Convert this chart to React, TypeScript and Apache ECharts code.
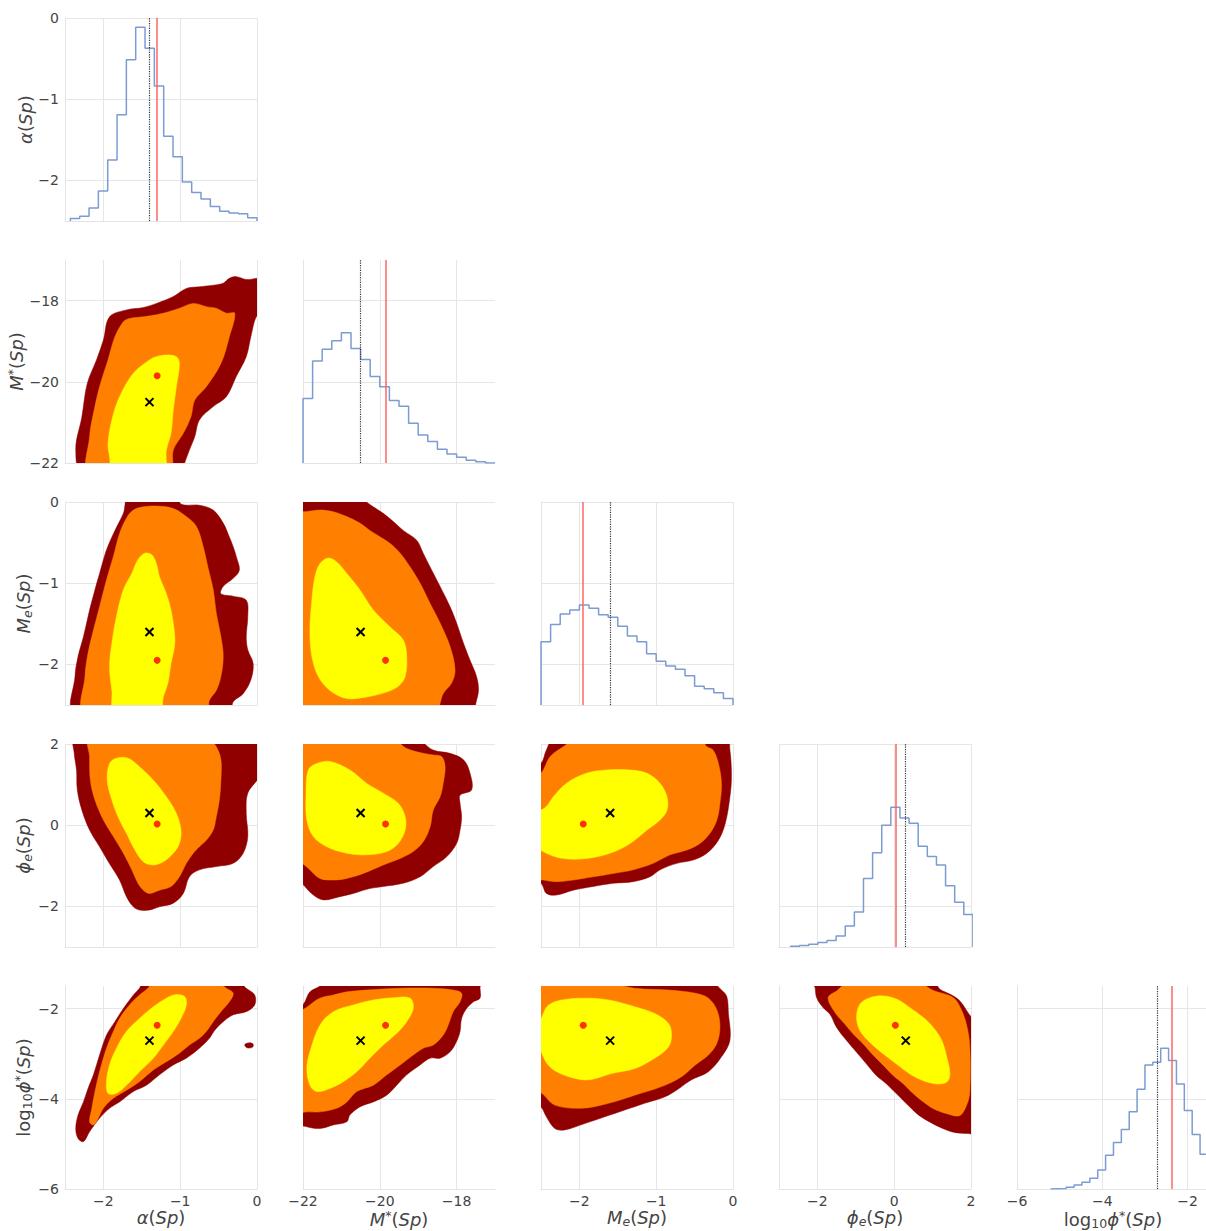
import React, { useEffect, useRef } from "react";
import * as echarts from "echarts";

const FONT = "DejaVu Sans";

// ---- parameters: alpha, M*, Me, phi_e, log10 phi*
const axisMin = [-2.5, -22, -2.5, -3, -6];
const axisMax = [0, -17, 0, 2, -1.5];
const tickValues = [
  [-2, -1, 0],
  [-22, -20, -18],
  [-2, -1, 0],
  [-2, 0, 2],
  [-6, -4, -2],
];
const varTitles = [
  "{i|α}{n|(}{i|Sp}{n|)}",
  "{i|M}{sup|*}{n|(}{i|Sp}{n|)}",
  "{i|M}{subi|e}{n|(}{i|Sp}{n|)}",
  "{i|ϕ}{subi|e}{n|(}{i|Sp}{n|)}",
  "{n|log}{sub|10}{i|ϕ}{sup|*}{n|(}{i|Sp}{n|)}",
];

const trueValues = [-1.3, -19.85, -1.95, 0.03, -2.37];
const estValues = [-1.4, -20.5, -1.6, 0.3, -2.71];

// ---- marginal histograms (heights in the row-axis units as drawn)
const histStart = [-2.43, -22, -2.5, -2.7, -5.215];
const histWidth = [0.1215, 0.25, 0.125, 0.2375, 0.1845];
const histAlpha = [-2.47, -2.44, -2.34, -2.13, -1.75, -1.19, -0.515, -0.115, -0.372, -0.838, -1.456, -1.71, -2.02, -2.15, -2.23, -2.32, -2.38, -2.4, -2.41, -2.46];
const histMstar = [-20.41, -19.49, -19.2, -18.99, -18.79, -19.18, -19.45, -19.87, -20.12, -20.46, -20.6, -21.02, -21.31, -21.47, -21.66, -21.78, -21.86, -21.93, -21.97, -22.0];
const histMe = [-1.72, -1.51, -1.38, -1.33, -1.27, -1.31, -1.39, -1.42, -1.53, -1.65, -1.72, -1.87, -1.96, -2.02, -2.06, -2.14, -2.27, -2.3, -2.35, -2.42];
const histPhiE = [-2.98, -2.96, -2.93, -2.89, -2.84, -2.73, -2.48, -2.14, -1.31, -0.68, 0.0, 0.44, 0.18, 0.05, -0.52, -0.77, -0.98, -1.49, -1.9, -2.2];
const histLogPhi = [-5.995, -5.99, -5.96, -5.91, -5.85, -5.76, -5.58, -5.25, -4.97, -4.68, -4.29, -3.79, -3.25, -3.19, -2.88, -3.15, -3.67, -4.26, -4.79, -5.23, -5.55];
const histHeights = [histAlpha, histMstar, histMe, histPhiE, histLogPhi];

// ---- credible-region contours [x, y] (outer = dark red, mid = orange, inner = yellow)
// M* vs alpha
const alMsOuter = [[-2.26,-22.3],[-2.36,-21.68],[-2.28,-20.86],[-2.21,-20.04],[-2.09,-19.46],[-2.0,-18.97],[-1.92,-18.4],[-1.7,-18.23],[-1.48,-18.17],[-1.31,-18.07],[-1.09,-17.9],[-0.92,-17.7],[-0.75,-17.66],[-0.57,-17.62],[-0.44,-17.57],[-0.36,-17.45],[-0.27,-17.41],[-0.14,-17.48],[0.05,-17.49],[0.05,-18.4],[-0.01,-18.4],[-0.08,-18.89],[-0.14,-19.38],[-0.27,-19.87],[-0.4,-20.37],[-0.57,-20.61],[-0.75,-20.94],[-0.81,-21.35],[-0.88,-21.68],[-0.96,-22.09],[-1.0,-22.3]];
const alMsMid = [[-2.18,-22.3],[-2.18,-21.35],[-2.12,-20.69],[-2.05,-20.12],[-1.94,-19.46],[-1.85,-18.89],[-1.74,-18.52],[-1.66,-18.44],[-1.48,-18.4],[-1.31,-18.35],[-1.14,-18.27],[-1.01,-18.19],[-0.83,-18.07],[-0.66,-18.15],[-0.53,-18.19],[-0.4,-18.31],[-0.29,-18.31],[-0.36,-18.89],[-0.47,-19.55],[-0.66,-20.12],[-0.81,-20.45],[-0.86,-20.86],[-0.96,-21.27],[-1.09,-21.68],[-1.14,-22.3]];
const alMsInner = [[-1.4,-19.46],[-1.61,-19.79],[-1.79,-20.37],[-1.89,-20.94],[-1.94,-21.52],[-1.92,-21.84],[-1.87,-22.3],[-1.22,-22.3],[-1.18,-21.68],[-1.12,-21.27],[-1.09,-20.69],[-1.05,-20.12],[-1.01,-19.55],[-1.05,-19.38],[-1.18,-19.34],[-1.31,-19.38]];
// Me vs alpha
const alMeOuter = [[-1.66,0.1],[-1.05,0.1],[-0.99,-0.025],[-0.75,-0.04],[-0.57,-0.1],[-0.44,-0.26],[-0.36,-0.43],[-0.31,-0.55],[-0.27,-0.67],[-0.23,-0.84],[-0.31,-0.94],[-0.44,-1.04],[-0.47,-1.13],[-0.31,-1.16],[-0.14,-1.21],[-0.12,-1.41],[-0.14,-1.66],[-0.12,-1.82],[-0.05,-1.99],[-0.08,-2.19],[-0.18,-2.36],[-0.31,-2.46],[-0.36,-2.6],[-2.37,-2.6],[-2.37,-2.15],[-2.33,-1.9],[-2.26,-1.66],[-2.18,-1.33],[-2.11,-1.08],[-2.05,-0.88],[-1.96,-0.59],[-1.85,-0.35],[-1.74,-0.14]];
const alMeMid = [[-1.61,-0.1],[-1.48,-0.06],[-1.31,-0.05],[-1.09,-0.08],[-0.92,-0.18],[-0.79,-0.3],[-0.7,-0.55],[-0.64,-0.8],[-0.57,-1.08],[-0.53,-1.37],[-0.47,-1.66],[-0.44,-1.9],[-0.47,-2.15],[-0.53,-2.32],[-0.62,-2.44],[-0.66,-2.6],[-2.24,-2.6],[-2.24,-2.15],[-2.2,-1.86],[-2.13,-1.58],[-2.05,-1.29],[-1.96,-0.96],[-1.87,-0.67],[-1.79,-0.39],[-1.7,-0.2]];
const alMeInner = [[-1.46,-0.63],[-1.37,-0.65],[-1.31,-0.76],[-1.27,-0.92],[-1.2,-1.08],[-1.14,-1.25],[-1.09,-1.49],[-1.07,-1.74],[-1.12,-1.99],[-1.16,-2.23],[-1.22,-2.4],[-1.27,-2.6],[-1.85,-2.6],[-1.89,-2.32],[-1.92,-2.03],[-1.89,-1.74],[-1.83,-1.41],[-1.74,-1.08],[-1.63,-0.88],[-1.55,-0.71]];
// Me vs M*
const msMeOuter = [[-22.2,0.1],[-20.6,0.1],[-20.4,0.02],[-20.17,-0.06],[-19.91,-0.14],[-19.65,-0.24],[-19.39,-0.35],[-19.04,-0.47],[-18.87,-0.63],[-18.69,-0.8],[-18.43,-1.04],[-18.17,-1.29],[-18.0,-1.49],[-17.82,-1.74],[-17.65,-1.95],[-17.48,-2.15],[-17.43,-2.32],[-17.5,-2.48],[-17.55,-2.6],[-22.2,-2.6]];
const msMeMid = [[-22.2,-0.12],[-21.95,-0.12],[-21.56,-0.1],[-21.21,-0.12],[-20.86,-0.18],[-20.52,-0.26],[-20.26,-0.35],[-19.99,-0.43],[-19.73,-0.51],[-19.47,-0.63],[-19.21,-0.8],[-18.95,-1.0],[-18.69,-1.25],[-18.43,-1.49],[-18.17,-1.78],[-18.04,-2.07],[-18.13,-2.23],[-18.35,-2.36],[-18.43,-2.48],[-18.5,-2.6],[-22.2,-2.6]];
const msMeInner = [[-21.56,-0.76],[-21.34,-0.69],[-21.12,-0.74],[-20.86,-0.88],[-20.52,-1.08],[-20.17,-1.33],[-19.73,-1.54],[-19.39,-1.7],[-19.3,-1.9],[-19.34,-2.15],[-19.52,-2.27],[-19.82,-2.34],[-20.34,-2.4],[-20.86,-2.42],[-21.3,-2.32],[-21.6,-2.15],[-21.77,-1.9],[-21.82,-1.58],[-21.77,-1.21],[-21.69,-0.92]];
// phi_e vs alpha
const alPeOuter = [[-2.37,2.1],[0.05,2.1],[0.05,1.28],[-0.12,0.79],[-0.14,0.29],[-0.12,-0.28],[-0.18,-0.69],[-0.31,-0.94],[-0.53,-1.02],[-0.75,-1.1],[-0.88,-1.27],[-0.96,-1.68],[-1.09,-1.92],[-1.27,-2.01],[-1.4,-2.09],[-1.53,-2.09],[-1.61,-2.01],[-1.7,-1.76],[-1.79,-1.35],[-1.92,-0.95],[-2.05,-0.53],[-2.18,-0.12],[-2.28,0.37],[-2.34,0.87],[-2.35,1.36],[-2.38,1.77]];
const alPeMid = [[-2.18,2.1],[-0.62,2.1],[-0.53,1.93],[-0.47,1.61],[-0.47,1.11],[-0.49,0.62],[-0.53,0.21],[-0.57,-0.12],[-0.66,-0.37],[-0.75,-0.53],[-0.83,-0.69],[-0.92,-0.94],[-1.01,-1.27],[-1.12,-1.51],[-1.27,-1.6],[-1.4,-1.68],[-1.48,-1.6],[-1.55,-1.43],[-1.63,-1.1],[-1.74,-0.69],[-1.87,-0.28],[-2.0,0.13],[-2.11,0.62],[-2.17,1.11],[-2.18,1.69]];
const alPeInner = [[-1.92,1.52],[-1.83,1.65],[-1.68,1.65],[-1.53,1.44],[-1.35,1.11],[-1.18,0.7],[-1.05,0.29],[-0.99,-0.12],[-1.01,-0.45],[-1.09,-0.69],[-1.22,-0.9],[-1.35,-0.98],[-1.48,-0.9],[-1.59,-0.61],[-1.7,-0.2],[-1.81,0.21],[-1.89,0.62],[-1.95,1.11]];
// phi_e vs M*
const msPeOuter = [[-22.2,2.1],[-19.04,2.1],[-18.61,1.85],[-18.17,1.77],[-17.82,1.61],[-17.65,1.28],[-17.61,0.87],[-17.91,0.74],[-17.91,0.54],[-17.87,0.21],[-17.91,-0.12],[-18.0,-0.45],[-18.26,-0.78],[-18.61,-1.02],[-18.95,-1.27],[-19.39,-1.43],[-19.91,-1.51],[-20.26,-1.56],[-20.69,-1.68],[-21.04,-1.76],[-21.47,-1.84],[-21.73,-1.72],[-21.95,-1.51],[-22.2,-1.19]];
const msPeMid = [[-22.2,2.1],[-19.65,2.1],[-19.3,1.89],[-18.87,1.77],[-18.61,1.73],[-18.39,1.69],[-18.3,1.44],[-18.35,1.03],[-18.43,0.7],[-18.61,0.37],[-18.69,-0.04],[-18.87,-0.41],[-19.13,-0.65],[-19.47,-0.82],[-19.91,-0.98],[-20.43,-1.19],[-20.86,-1.31],[-21.21,-1.35],[-21.56,-1.31],[-21.82,-1.1],[-22.2,-0.69]];
const msPeInner = [[-21.86,1.36],[-21.64,1.52],[-21.3,1.57],[-20.78,1.36],[-20.34,1.03],[-19.91,0.79],[-19.52,0.54],[-19.34,0.21],[-19.34,-0.12],[-19.52,-0.45],[-19.82,-0.65],[-20.34,-0.73],[-20.86,-0.69],[-21.38,-0.53],[-21.73,-0.28],[-21.9,0.13],[-21.92,0.79]];
// phi_e vs Me
const mePeOuter = [[-2.6,1.52],[-2.5,1.52],[-2.43,1.85],[-2.34,2.1],[-0.08,2.1],[-0.04,1.85],[-0.02,1.2],[-0.04,0.7],[-0.1,0.05],[-0.19,-0.37],[-0.34,-0.69],[-0.52,-0.86],[-0.73,-0.94],[-0.95,-1.1],[-1.08,-1.27],[-1.3,-1.39],[-1.56,-1.43],[-1.82,-1.51],[-2.08,-1.6],[-2.3,-1.72],[-2.43,-1.68],[-2.5,-1.43],[-2.6,-1.43]];
const mePeMid = [[-2.6,1.28],[-2.5,1.28],[-2.38,1.69],[-2.21,1.93],[-2.1,2.05],[-0.4,2.05],[-0.34,1.93],[-0.26,1.85],[-0.19,1.52],[-0.15,1.03],[-0.17,0.54],[-0.21,0.13],[-0.3,-0.2],[-0.43,-0.45],[-0.6,-0.61],[-0.82,-0.73],[-1.04,-0.94],[-1.3,-1.1],[-1.56,-1.19],[-1.82,-1.27],[-2.08,-1.35],[-2.3,-1.39],[-2.47,-1.35],[-2.6,-1.3]];
const mePeInner = [[-2.34,0.7],[-2.17,1.03],[-1.91,1.28],[-1.65,1.36],[-1.34,1.36],[-1.12,1.28],[-0.95,1.03],[-0.86,0.7],[-0.86,0.37],[-0.95,0.13],[-1.12,-0.12],[-1.34,-0.45],[-1.6,-0.69],[-1.91,-0.82],[-2.21,-0.82],[-2.43,-0.69],[-2.6,-0.45],[-2.6,0.21],[-2.43,0.46]];
// log phi* vs alpha
const alLpOuter = [[-1.48,-1.4],[-0.25,-1.4],[-0.14,-1.55],[-0.03,-1.7],[-0.03,-1.92],[-0.14,-2.07],[-0.31,-2.14],[-0.44,-2.29],[-0.55,-2.48],[-0.62,-2.66],[-0.75,-2.88],[-0.92,-3.1],[-1.09,-3.25],[-1.27,-3.47],[-1.44,-3.7],[-1.61,-3.84],[-1.79,-4.07],[-1.92,-4.21],[-2.05,-4.43],[-2.18,-4.73],[-2.26,-4.95],[-2.33,-4.88],[-2.36,-4.66],[-2.33,-4.36],[-2.26,-4.07],[-2.2,-3.77],[-2.13,-3.47],[-2.05,-3.03],[-1.96,-2.59],[-1.85,-2.29],[-1.74,-2.0],[-1.61,-1.7],[-1.53,-1.55]];
const alLpIsland = [[-0.16,-2.8],[-0.1,-2.76],[-0.05,-2.79],[-0.06,-2.86],[-0.13,-2.87]];
const alLpMid = [[-1.35,-1.4],[-0.53,-1.4],[-0.4,-1.55],[-0.31,-1.66],[-0.36,-1.85],[-0.47,-2.07],[-0.57,-2.29],[-0.66,-2.51],[-0.75,-2.66],[-0.88,-2.81],[-1.01,-2.99],[-1.18,-3.18],[-1.35,-3.36],[-1.53,-3.62],[-1.7,-3.81],[-1.87,-3.99],[-2.0,-4.21],[-2.09,-4.51],[-2.13,-4.58],[-2.18,-4.51],[-2.15,-4.21],[-2.11,-3.84],[-2.05,-3.4],[-1.96,-2.88],[-1.87,-2.51],[-1.79,-2.22],[-1.66,-1.92],[-1.53,-1.7],[-1.42,-1.55]];
const alLpInner = [[-1.18,-1.77],[-1.05,-1.69],[-0.94,-1.74],[-0.92,-1.92],[-0.99,-2.22],[-1.09,-2.51],[-1.22,-2.81],[-1.35,-3.1],[-1.53,-3.4],[-1.7,-3.7],[-1.83,-3.88],[-1.94,-3.88],[-1.96,-3.62],[-1.92,-3.25],[-1.83,-2.88],[-1.7,-2.51],[-1.53,-2.22],[-1.35,-1.96]];
// log phi* vs M*
const msLpOuter = [[-22.2,-2.2],[-21.95,-1.85],[-21.82,-1.63],[-21.56,-1.5],[-21.5,-1.4],[-17.4,-1.4],[-17.39,-1.55],[-17.39,-1.77],[-17.56,-1.85],[-17.74,-2.0],[-17.87,-2.22],[-17.91,-2.51],[-18.0,-2.73],[-18.17,-2.96],[-18.43,-3.1],[-18.69,-3.1],[-18.95,-3.25],[-19.3,-3.47],[-19.56,-3.7],[-19.82,-3.92],[-20.17,-4.07],[-20.52,-4.18],[-20.78,-4.36],[-20.86,-4.51],[-21.21,-4.58],[-21.56,-4.66],[-21.9,-4.62],[-22.2,-4.51]];
const msLpMid = [[-22.2,-2.22],[-21.82,-1.92],[-21.56,-1.77],[-21.21,-1.7],[-20.86,-1.63],[-20.34,-1.59],[-19.47,-1.55],[-18.61,-1.55],[-18.09,-1.59],[-17.87,-1.66],[-17.91,-1.85],[-18.09,-2.07],[-18.22,-2.37],[-18.35,-2.59],[-18.61,-2.81],[-18.87,-2.88],[-19.13,-3.03],[-19.47,-3.25],[-19.82,-3.47],[-20.17,-3.7],[-20.6,-3.84],[-20.86,-4.07],[-21.12,-4.21],[-21.56,-4.29],[-21.9,-4.29],[-22.2,-4.29]];
const msLpInner = [[-21.82,-2.96],[-21.56,-2.37],[-21.21,-2.07],[-20.69,-1.92],[-20.17,-1.81],[-19.65,-1.76],[-19.21,-1.77],[-19.13,-2.0],[-19.3,-2.29],[-19.56,-2.55],[-19.91,-2.81],[-20.26,-3.1],[-20.6,-3.4],[-20.95,-3.62],[-21.3,-3.77],[-21.64,-3.84],[-21.82,-3.7],[-21.9,-3.33]];
// log phi* vs Me
const meLpOuter = [[-2.6,-1.4],[-0.3,-1.4],[-0.15,-1.59],[-0.08,-1.74],[-0.06,-2.1],[-0.04,-2.7],[-0.15,-3.07],[-0.32,-3.4],[-0.54,-3.58],[-0.84,-3.92],[-1.15,-4.1],[-1.41,-4.25],[-1.67,-4.4],[-1.93,-4.55],[-2.19,-4.69],[-2.32,-4.66],[-2.43,-4.4],[-2.5,-4.18],[-2.6,-4.1]];
const meLpMid = [[-2.6,-1.4],[-1.7,-1.4],[-1.28,-1.55],[-0.84,-1.59],[-0.49,-1.66],[-0.32,-1.77],[-0.21,-2.03],[-0.17,-2.4],[-0.21,-2.77],[-0.32,-3.03],[-0.49,-3.25],[-0.67,-3.51],[-0.93,-3.73],[-1.28,-3.92],[-1.62,-4.1],[-1.97,-4.21],[-2.32,-4.14],[-2.49,-3.88],[-2.6,-3.8]];
const meLpInner = [[-2.47,-2.11],[-2.4,-1.92],[-2.23,-1.81],[-1.93,-1.77],[-1.62,-1.81],[-1.28,-1.96],[-1.02,-2.11],[-0.84,-2.33],[-0.8,-2.59],[-0.84,-2.85],[-1.02,-3.1],[-1.28,-3.33],[-1.58,-3.44],[-1.88,-3.58],[-2.14,-3.51],[-2.36,-3.33],[-2.47,-3.07],[-2.55,-2.55]];
// log phi* vs phi_e
const peLpOuter = [[-2.1,-1.4],[1.02,-1.4],[1.19,-1.57],[1.45,-1.68],[1.71,-1.83],[2.02,-2.2],[2.1,-2.2],[2.1,-4.77],[1.93,-4.77],[1.54,-4.74],[1.19,-4.63],[0.85,-4.48],[0.59,-4.33],[0.32,-4.11],[0.06,-3.89],[-0.2,-3.67],[-0.46,-3.49],[-0.72,-3.23],[-0.98,-2.97],[-1.24,-2.71],[-1.5,-2.42],[-1.67,-2.13],[-1.85,-1.98],[-2.02,-1.76],[-2.06,-1.54]];
const peLpMid = [[-1.72,-1.76],[-1.5,-1.61],[-1.24,-1.45],[0.67,-1.45],[1.02,-1.6],[1.54,-1.76],[1.76,-2.05],[1.9,-2.42],[1.97,-2.86],[1.97,-3.82],[1.9,-4.11],[1.71,-4.37],[1.37,-4.33],[1.02,-4.22],[0.76,-4.07],[0.5,-3.89],[0.24,-3.67],[-0.02,-3.49],[-0.28,-3.26],[-0.54,-3.04],[-0.8,-2.79],[-1.06,-2.57],[-1.32,-2.31],[-1.54,-2.09]];
const peLpInner = [[-0.89,-1.9],[-0.63,-1.76],[-0.28,-1.72],[0.06,-1.79],[0.41,-1.98],[0.76,-2.2],[1.02,-2.42],[1.24,-2.71],[1.37,-3.08],[1.45,-3.45],[1.37,-3.63],[1.11,-3.67],[0.76,-3.6],[0.41,-3.45],[0.06,-3.23],[-0.28,-3.01],[-0.63,-2.75],[-0.89,-2.49],[-0.98,-2.2]];

const levelColors = ["#900000", "#ff8000", "#ffff00"];

const contourPanels = [
  { row: 1, col: 0, levels: [[alMsOuter], [alMsMid], [alMsInner]] },
  { row: 2, col: 0, levels: [[alMeOuter], [alMeMid], [alMeInner]] },
  { row: 2, col: 1, levels: [[msMeOuter], [msMeMid], [msMeInner]] },
  { row: 3, col: 0, levels: [[alPeOuter], [alPeMid], [alPeInner]] },
  { row: 3, col: 1, levels: [[msPeOuter], [msPeMid], [msPeInner]] },
  { row: 3, col: 2, levels: [[mePeOuter], [mePeMid], [mePeInner]] },
  { row: 4, col: 0, levels: [[alLpOuter, alLpIsland], [alLpMid], [alLpInner]] },
  { row: 4, col: 1, levels: [[msLpOuter], [msLpMid], [msLpInner]] },
  { row: 4, col: 2, levels: [[meLpOuter], [meLpMid], [meLpInner]] },
  { row: 4, col: 3, levels: [[peLpOuter], [peLpMid], [peLpInner]] },
];

const TEXT = "#444";
const richStyles: any = {
  n: { fontFamily: FONT, fontSize: 18, color: TEXT, lineHeight: 21 },
  i: { fontFamily: FONT, fontSize: 18, fontStyle: "italic", color: TEXT, lineHeight: 21 },
  sup: { fontFamily: FONT, fontSize: 12.5, color: TEXT, verticalAlign: "top", lineHeight: 12 },
  sub: { fontFamily: FONT, fontSize: 12.5, color: TEXT, verticalAlign: "bottom", lineHeight: 12 },
  subi: { fontFamily: FONT, fontSize: 12.5, fontStyle: "italic", color: TEXT, verticalAlign: "bottom", lineHeight: 12 },
};

const fmt = (v: number) => (v < 0 ? "\u2212" + Math.abs(v) : String(v));

function makeAxis(v: number, gridIndex: number, show: boolean, dim: "x" | "y") {
  return {
    type: "value",
    gridIndex,
    min: axisMin[v],
    max: axisMax[v],
    axisLine: { show: true, onZero: false, lineStyle: { color: "#e4e4e4", width: 1 } },
    axisTick: { show: false, customValues: tickValues[v] },
    axisLabel: {
      show,
      customValues: tickValues[v],
      formatter: fmt,
      color: TEXT,
      fontFamily: FONT,
      fontSize: 14,
      margin: dim === "x" ? 5 : 6,
    },
    splitLine: { show: true, lineStyle: { color: "#e6e6e6", width: 1 } },
    name: show ? varTitles[v] : "",
    nameLocation: "middle",
    nameGap: dim === "x" ? 17 : 21,
    nameTextStyle: { rich: richStyles, fontFamily: FONT, fontSize: 18, color: TEXT },
  };
}

function histPoints(v: number) {
  const h = histHeights[v];
  const s = histStart[v];
  const w = histWidth[v];
  const base = axisMin[v];
  const pts: number[][] = [[s, base]];
  h.forEach((val, b) => {
    pts.push([s + b * w, val]);
    pts.push([s + (b + 1) * w, val]);
  });
  pts.push([s + h.length * w, base]);
  return pts;
}

function buildOption() {
  const grid: any[] = [];
  const xAxis: any[] = [];
  const yAxis: any[] = [];
  const series: any[] = [];
  const idx: Record<string, number> = {};
  let k = 0;
  for (let i = 0; i < 5; i++) {
    for (let j = 0; j <= i; j++) {
      grid.push({
        left: 65 + 238 * j,
        top: 18 + 242 * i,
        width: 192,
        height: 203,
        containLabel: false,
        outerBoundsMode: "none",
      });
      xAxis.push(makeAxis(j, k, i === 4, "x"));
      yAxis.push(makeAxis(i, k, j === 0, "y"));
      idx[i + "-" + j] = k;
      k++;
    }
  }

  // diagonal histograms with reference lines
  for (let v = 0; v < 5; v++) {
    const g = idx[v + "-" + v];
    series.push({
      type: "line",
      xAxisIndex: g,
      yAxisIndex: g,
      data: histPoints(v),
      showSymbol: false,
      symbol: "none",
      lineStyle: { color: "#7b9bd2", width: 1.5 },
      silent: true,
      z: 3,
      markLine: {
        silent: true,
        symbol: ["none", "none"],
        label: { show: false },
        emphasis: { disabled: true },
        data: [
          { xAxis: estValues[v], lineStyle: { color: "#333", width: 1.2, type: "dotted" } },
          { xAxis: trueValues[v], lineStyle: { color: "#ff6464", width: 1.5, type: "solid" } },
        ],
      },
    });
  }

  // contour panels
  contourPanels.forEach((p) => {
    const g = idx[p.row + "-" + p.col];
    const polys: { pts: number[][]; color: string }[] = [];
    p.levels.forEach((list, li) => list.forEach((pts) => polys.push({ pts, color: levelColors[li] })));
    series.push({
      type: "custom",
      xAxisIndex: g,
      yAxisIndex: g,
      clip: true,
      silent: true,
      z: 2,
      data: polys.map((q) => q.pts[0]),
      renderItem: (params: any, api: any) => {
        const q = polys[params.dataIndex];
        return {
          type: "polygon",
          shape: { points: q.pts.map((pt) => api.coord(pt)), smooth: 0.35 },
          style: { fill: q.color, stroke: q.color, lineWidth: 0.5 },
        };
      },
    });
    series.push({
      type: "scatter",
      xAxisIndex: g,
      yAxisIndex: g,
      data: [[trueValues[p.col], trueValues[p.row]]],
      symbolSize: 7,
      itemStyle: { color: "#ff0000" },
      silent: true,
      z: 6,
    });
    series.push({
      type: "custom",
      xAxisIndex: g,
      yAxisIndex: g,
      silent: true,
      z: 7,
      data: [[estValues[p.col], estValues[p.row]]],
      renderItem: (params: any, api: any) => {
        const c = api.coord([api.value(0), api.value(1)]);
        const s = 4;
        return {
          type: "group",
          children: [
            { type: "line", shape: { x1: c[0] - s, y1: c[1] - s, x2: c[0] + s, y2: c[1] + s }, style: { stroke: "#000", lineWidth: 2 } },
            { type: "line", shape: { x1: c[0] - s, y1: c[1] + s, x2: c[0] + s, y2: c[1] - s }, style: { stroke: "#000", lineWidth: 2 } },
          ],
        };
      },
    });
  });

  return {
    animation: false,
    backgroundColor: "#ffffff",
    textStyle: { fontFamily: FONT },
    grid,
    xAxis,
    yAxis,
    series,
  };
}

export default function App() {
  const ref = useRef<HTMLDivElement>(null);
  useEffect(() => {
    if (!ref.current) return;
    const chart = echarts.init(ref.current, null, { renderer: "svg" });
    chart.setOption(buildOption() as any);
    return () => chart.dispose();
  }, []);
  return (
    <div
      ref={ref}
      style={{ position: "absolute", left: 0, top: 0, width: 1206, height: 1231, background: "#fff" }}
    />
  );
}
